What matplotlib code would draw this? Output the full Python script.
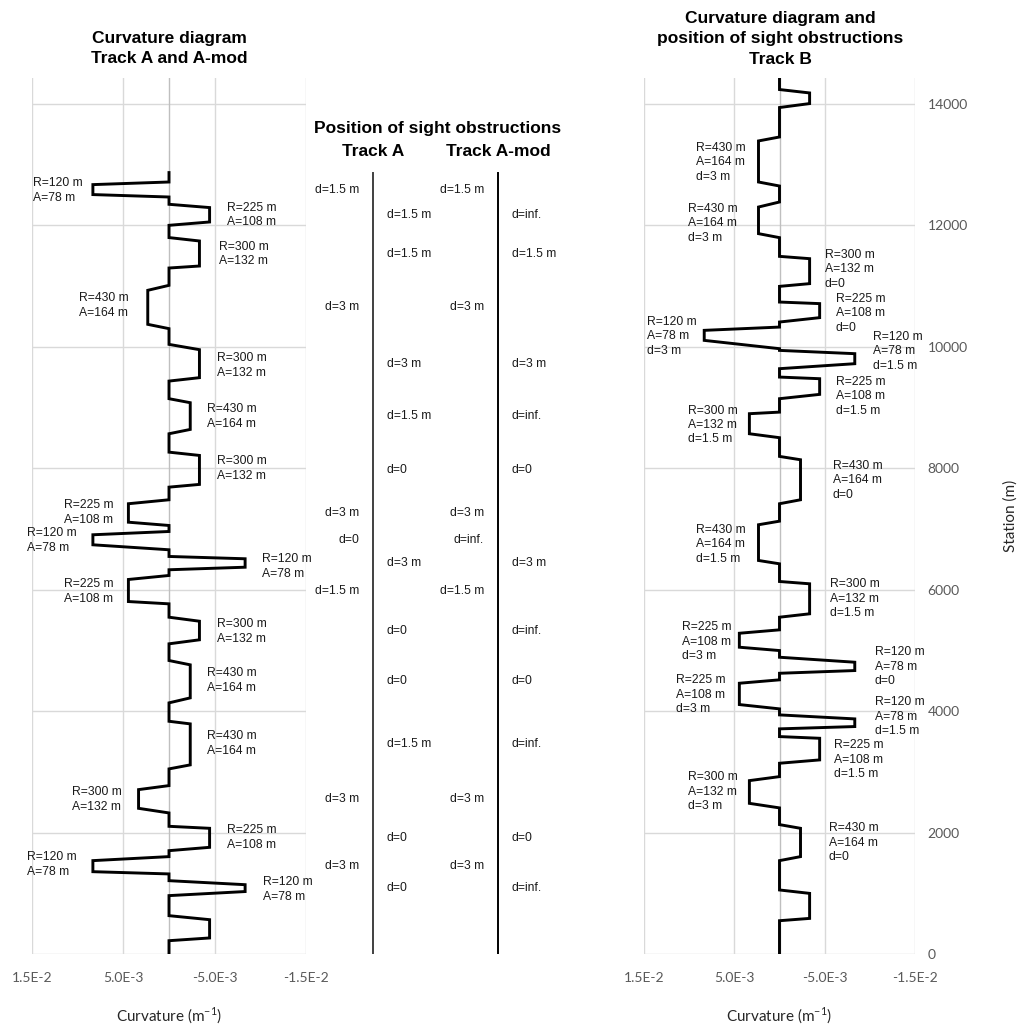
import matplotlib.pyplot as plt
from matplotlib.transforms import blended_transform_factory

plt.rcParams['font.family'] = ['Liberation Sans', 'DejaVu Sans']
plt.rcParams['mathtext.fontset'] = 'custom'
plt.rcParams['mathtext.rm'] = 'Lato'

W, H = 1017, 1028
Y_MAX = 14420

# Track A / A-mod curvature diagram (stations in m, radius signed: + = left)
A_top = 12863
A_radius = [120, -225, -300, 430, -300, -430, -300, 225, 120, -120, 225, -300, -430, -430, 300, -225, 120, -120, -225]
A_param = [78, 108, 132, 164, 132, 164, 132, 108, 78, 78, 108, 132, 164, 164, 132, 108, 78, 78, None]
A_start = [12708, 12341, 11793, 11007, 10035, 9141, 8261, 7477, 6955, 6544, 6231, 5544, 4831, 3831, 2772, 2102, 1603, 1207, 631]
A_arc_hi = [12665, 12287, 11737, 10925, 9948, 9075, 8207, 7412, 6901, 6506, 6165, 5478, 4760, 3788, 2706, 2069, 1537, 1141, 565]
A_arc_lo = [12501, 12050, 11325, 10365, 9487, 8635, 7730, 7108, 6736, 6367, 5802, 5172, 4216, 3113, 2398, 1756, 1355, 1028, 264]
A_end = [12461, 11995, 11292, 10294, 9431, 8564, 7685, 7054, 6654, 6325, 5764, 5106, 4134, 3047, 2322, 1701, 1318, 961, 219]

# sight obstruction distances per curve
A_sight = ["1.5 m", "1.5 m", "1.5 m", "3 m", "3 m", "1.5 m", "0", "3 m", "0", "3 m",
           "1.5 m", "0", "0", "1.5 m", "3 m", "0", "3 m", "0", None]
Amod_sight = ["1.5 m", "inf.", "1.5 m", "3 m", "3 m", "inf.", "0", "3 m", "inf.", "3 m",
              "1.5 m", "inf.", "0", "inf.", "3 m", "0", "3 m", "inf.", None]

# Track B
B_top = 14500
B_radius = [-300, 430, 430, -300, -225, 120, -120, -225, 300, -430, 430, -300, 225, -120, 225, -120, -225, 300, -430, -300]
B_param = [None, 164, 164, 132, 108, 78, 78, 108, 132, 164, 164, 132, 108, 78, 108, 78, 108, 132, 164, None]
B_sight = [None, "3 m", "3 m", "0", "0", "3 m", "1.5 m", "1.5 m", "1.5 m", "0", "1.5 m",
           "1.5 m", "3 m", "0", "3 m", "1.5 m", "1.5 m", "3 m", "0", None]
B_start = [14230, 13449, 12379, 11484, 10732, 10320, 9936, 9497, 8920, 8191, 7125, 6132, 5336, 4885, 4513, 3936, 3579, 2920, 2130, 1054]
B_arc_hi = [14174, 13384, 12296, 11446, 10706, 10266, 9882, 9470, 8894, 8136, 7066, 6094, 5280, 4803, 4457, 3870, 3551, 2854, 2069, 998]
B_arc_lo = [13999, 12708, 11858, 11035, 10475, 10101, 9717, 9212, 8564, 7477, 6478, 5600, 5050, 4666, 4106, 3744, 3195, 2480, 1603, 586]
B_end = [13934, 12642, 11792, 10990, 10403, 9964, 9635, 9141, 8499, 7412, 6423, 5544, 4995, 4621, 4035, 3706, 3140, 2405, 1537, 548]

x_ticks = [0.015, 0.005, -0.005, -0.015]
y_ticks = [0, 2000, 4000, 6000, 8000, 10000, 12000, 14000]

# label layout: horizontal offset of the text's left edge from the arc (px),
# and the station the label block is centred on
A_label_dx = [-60, 17, 20, -69, 18, 17, 18, -64, -66, 17, -64, 18, 17, 17, -67, 17, -66, 18, 0]
A_label_sta = [12570, 12159, 11517, 10677, 9689, 8849, 7993, 7269, 6808, 6380, 5968, 5309, 4502, 3465, 2543, 1917, 1472, 1061, None]
B_label_dx = [0, -62, -70, 15, 16, -57, 18, 16, -61, 32, -62, 20, -57, 20, -63, 20, 14, -61, 28, 0]
B_label_sta = [None, 13032, 12028, 11270, 10546, 10167, 9920, 9179, 8709, 7795, 6741, 5851, 5143, 4731, 4270,
               3908, 3199, 2672, 1832, None]

LABEL_FS = 8.7


def px_axes(x0, x1, y0, y1):
    return fig.add_axes([x0 / W, 1 - y1 / H, (x1 - x0) / W, (y1 - y0) / H])


def sci(v):
    m, e = f"{v:.1E}".split("E")
    return f"{m}E{int(e)}"


def track_xy(top, starts, hi, lo, ends, radii):
    xs, ys = [0], [top]
    for s, h, l, e, r in zip(starts, hi, lo, ends, radii):
        k = 1.0 / r
        xs += [0, k, k, 0]
        ys += [s, h, l, e]
    xs.append(0)
    ys.append(0)
    return xs, ys


def style_curv_axes(ax):
    ax.set_xlim(0.015, -0.015)
    ax.set_ylim(0, Y_MAX)
    ax.set_xticks(x_ticks)
    ax.set_xticklabels([sci(v) for v in x_ticks], family='Lato', fontsize=10, color='#595959')
    ax.set_yticks(y_ticks)
    ax.tick_params(length=0)
    ax.tick_params(axis='x', pad=13)
    ax.grid(True, color='#d9d9d9', lw=1)
    ax.set_axisbelow(True)
    for sp in ax.spines.values():
        sp.set_visible(False)
    ax.axvline(0, color='#bfbfbf', lw=1, zorder=1)
    ax.set_xlabel("Curvature (m$^{-1}$)", family='Lato', fontsize=11, color='#262626', labelpad=16)


def label_curves(ax, radii, lines, sta, dx):
    for r, txt, s, d in zip(radii, lines, sta, dx):
        if txt is None:
            continue
        ax.annotate(txt, xy=(1.0 / r, s), xytext=(d * 0.72, 0), textcoords='offset points',
                    ha='left', va='center', multialignment='left', fontsize=LABEL_FS,
                    linespacing=1.25, color='#1a1a1a')


fig = plt.figure(figsize=(W / 100, H / 100), dpi=100)

# left: Track A and A-mod
ax1 = px_axes(32, 306, 78, 954)
style_curv_axes(ax1)
ax1.set_yticklabels([])
xa, ya = track_xy(A_top, A_start, A_arc_hi, A_arc_lo, A_end, A_radius)
ax1.plot(xa, ya, color='black', lw=2.1, solid_joinstyle='miter', zorder=3)
a_lines = [None if p is None else f"R={abs(r)} m\nA={p} m" for r, p in zip(A_radius, A_param)]
label_curves(ax1, A_radius, a_lines, A_label_sta, A_label_dx)

# right: Track B
ax2 = px_axes(644, 915, 78, 954)
style_curv_axes(ax2)
ax2.yaxis.tick_right()
ax2.set_yticklabels([str(v) for v in y_ticks], family='Lato', fontsize=10, color='#595959')
ax2.tick_params(axis='y', pad=9)
ax2.yaxis.set_label_position('right')
ax2.set_ylabel("Station (m)", family='Lato', fontsize=11, color='#262626', labelpad=26)
xb, yb = track_xy(B_top, B_start, B_arc_hi, B_arc_lo, B_end, B_radius)
ax2.plot(xb, yb, color='black', lw=2.1, solid_joinstyle='miter', zorder=3)
b_lines = [None if p is None else f"R={abs(r)} m\nA={p} m\nd={d}"
           for r, p, d in zip(B_radius, B_param, B_sight)]
label_curves(ax2, B_radius, b_lines, B_label_sta, B_label_dx)

# middle: position of sight obstructions
ax3 = px_axes(300, 600, 78, 954)
ax3.set_xlim(0, 1)
ax3.set_ylim(0, Y_MAX)
ax3.axis('off')
col_x = [0.243, 0.66]
col_color = ['#404040', 'black']
for cx, cc, sights in zip(col_x, col_color, [A_sight, Amod_sight]):
    ax3.plot([cx, cx], [0, A_top], color=cc, lw=1.4)
    for r, h, l, d in zip(A_radius, A_arc_hi, A_arc_lo, sights):
        if d is None:
            continue
        if r > 0:
            ax3.annotate(f"d={d}", xy=(cx, (h + l) / 2), xytext=(-10, 0), textcoords='offset points',
                         ha='right', va='center', fontsize=LABEL_FS, color='#1a1a1a')
        else:
            ax3.annotate(f"d={d}", xy=(cx, (h + l) / 2), xytext=(10, 0), textcoords='offset points',
                         ha='left', va='center', fontsize=LABEL_FS, color='#1a1a1a')

# titles
fig.text(169 / W, 1 - 48.5 / H, "Curvature diagram\nTrack A and A-mod", ha='center', va='center',
         fontsize=12.5, fontweight='bold', linespacing=1.42)
fig.text(780 / W, 1 - 39 / H, "Curvature diagram and\nposition of sight obstructions\nTrack B",
         ha='center', va='center', fontsize=12.5, fontweight='bold', linespacing=1.42)
fig.text(438 / W, 1 - 129 / H, "Position of sight obstructions", ha='center', va='center',
         fontsize=12.5, fontweight='bold')
tr = blended_transform_factory(ax3.transData, fig.transFigure)
ax3.text(col_x[0], 1 - 152 / H, "Track A", transform=tr, ha='center', va='center',
         fontsize=12.5, fontweight='bold')
ax3.text(col_x[1], 1 - 152 / H, "Track A-mod", transform=tr, ha='center', va='center',
         fontsize=12.5, fontweight='bold')

plt.savefig("out.png", dpi=100)
